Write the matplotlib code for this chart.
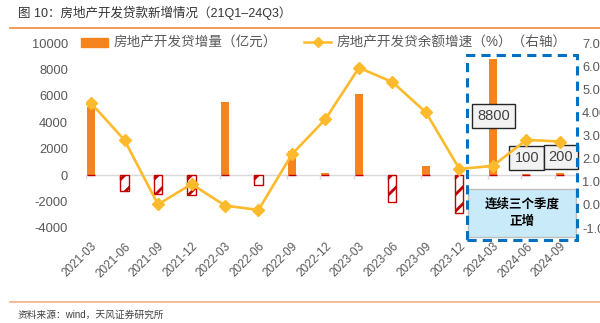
import matplotlib
matplotlib.use("Agg")
import matplotlib.pyplot as plt
import matplotlib.patches as mpatches
import matplotlib.lines as mlines
import matplotlib.transforms as mtransforms
import numpy as np

plt.rcParams['font.family'] = ['Liberation Sans', 'Noto Sans CJK SC']
plt.rcParams['hatch.linewidth'] = 2.0
plt.rcParams['axes.unicode_minus'] = False

quarters = ['2021-03', '2021-06', '2021-09', '2021-12', '2022-03', '2022-06', '2022-09',
            '2022-12', '2023-03', '2023-06', '2023-09', '2023-12', '2024-03', '2024-06',
            '2024-09']
# 房地产开发贷增量（亿元）
loan_increase = [5150, -1200, -1450, -1500, 5550, -750, 1800, 200, 6150, -2050, 700,
                 -2900, 8800, 100, 200]
# 房地产开发贷余额增速（%）
loan_growth = [4.40, 2.80, 0.02, 0.90, -0.03, -0.22, 2.19, 3.71, 5.93, 5.31, 4.00,
               1.55, 1.69, 2.81, 2.74]

orange = '#F5841F'
red = '#C00000'
yellow = '#FDBA2C'
grey_txt = '#595959'

fig = plt.figure(figsize=(6.0, 3.23), dpi=100)
ax = fig.add_axes([86 / 600, 1 - 228 / 323, 492 / 600, 185 / 323])
ax2 = ax.twinx()

x = np.arange(len(quarters))
vals = np.array(loan_increase)
pos = np.where(vals > 0, vals, 0)
neg = np.where(vals < 0, vals, 0)

ax.bar(x, pos, width=0.24, color=orange, zorder=2)
ax.bar(x, neg, width=0.24, facecolor='white', edgecolor=red, hatch='//',
       linewidth=1.0, zorder=2)

ax2.plot(x, loan_growth, color=yellow, lw=1.9, marker='D', markersize=6.5,
         markerfacecolor=yellow, markeredgecolor=yellow, zorder=3)

ax.set_xlim(-0.15, 14.54)
ax.set_ylim(-4000, 10000)
ax2.set_ylim(-1, 7)
ax.set_yticks(range(-4000, 10001, 2000))
ax.set_yticklabels([str(v) for v in range(-4000, 10001, 2000)])
ax2.set_yticks(range(-1, 8))
ax2.set_yticklabels([f'{v:.2f}' for v in range(-1, 8)])

for a in (ax, ax2):
    for s in a.spines.values():
        s.set_visible(False)
ax.tick_params(axis='y', length=0, pad=13, labelsize=9.3, labelcolor=grey_txt)
ax2.tick_params(axis='y', length=0, pad=3, labelsize=9.3, labelcolor=grey_txt)

ax.set_xticks(x)
ax.set_xticklabels(quarters, rotation=45, ha='right', rotation_mode='anchor')
ax.tick_params(axis='x', length=0, pad=9, labelsize=8.5, labelcolor=grey_txt)

# zero line with category boundary ticks
ax.axhline(0, color='#D9D9D9', lw=1.0, zorder=1)
trans = mtransforms.blended_transform_factory(ax.transData, ax.transAxes)
zero_ax = 4000 / 14000
ax.vlines(x - 0.15, zero_ax - 0.022, zero_ax, transform=trans, color='#D9D9D9',
          lw=1.0, zorder=1)

# value boxes for the last three quarters
box_kw = dict(boxstyle='square,pad=0.35', facecolor='#F2F2F2', edgecolor='#262626', lw=1.0)
ax.text(12.03, 4470, str(loan_increase[12]), ha='center', va='center', fontsize=10.5,
        color='#404040', bbox=box_kw, zorder=5)
ax.text(13.01, 1290, str(loan_increase[13]), ha='center', va='center', fontsize=10.5,
        color='#404040', bbox=box_kw, zorder=5)
ax.text(14.03, 1360, str(loan_increase[14]), ha='center', va='center', fontsize=10.5,
        color='#404040', bbox=box_kw, zorder=5)

# highlight box
ax.add_patch(mpatches.Rectangle((11.25, -4700), 3.23, 3640, facecolor='#C9EAF8',
                                edgecolor='#BFBFBF', lw=1.0, clip_on=False, zorder=4))
ax.text(12.87, -2900, '连续三个季度\n正增', ha='center', va='center', fontsize=9,
        fontweight='bold', color='black', linespacing=1.6, zorder=5)
ax.add_patch(mpatches.Rectangle((11.22, -4920), 3.29, 14010, fill=False,
                                edgecolor='#0070C0', lw=2.2, ls=(0, (3, 2)),
                                clip_on=False, zorder=6))

# legend
h_bar = mpatches.Patch(color=orange)
h_line = mlines.Line2D([], [], color=yellow, lw=1.8, marker='D', markersize=5)
fig.legend([h_bar, h_line], ['房地产开发贷增量（亿元）', '房地产开发贷余额增速（%）（右轴）'],
           loc='center left', bbox_to_anchor=(74 / 600, 1 - 43 / 323), ncol=2,
           frameon=False, fontsize=9.8, labelcolor=grey_txt, handlelength=2.0,
           handleheight=0.6, columnspacing=2.0, handletextpad=0.4, borderpad=0)

# title, rules and source
fig.text(18 / 600, 1 - 13 / 323, '图 10：房地产开发贷款新增情况（21Q1–24Q3）', fontsize=9,
         color='#333333', va='center')
fig.add_artist(mlines.Line2D([10 / 600, 1], [1 - 28 / 323] * 2, color='#F08A3C', lw=1.2))
fig.add_artist(mlines.Line2D([10 / 600, 1], [1 - 301.5 / 323] * 2, color='#F4B183', lw=1.2))
fig.text(18 / 600, 1 - 315 / 323, '资料来源：wind，天风证券研究所', fontsize=7,
         color='#404040', va='center')

fig.savefig('out.png', dpi=100)
